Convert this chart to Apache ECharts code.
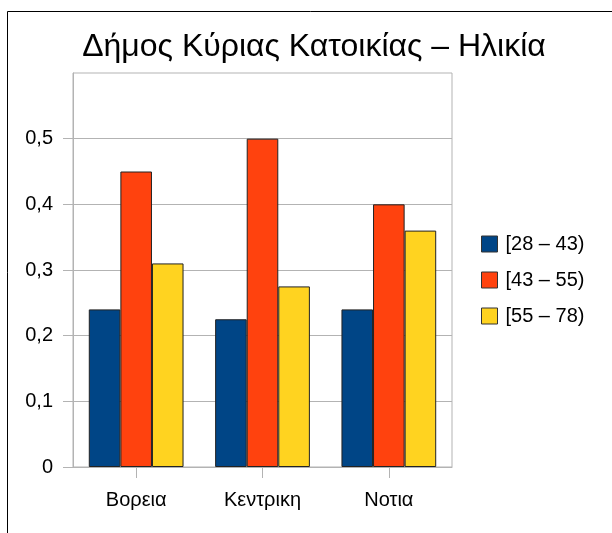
<!DOCTYPE html>
<html><head><meta charset="utf-8">
<script src="https://cdn.jsdelivr.net/npm/echarts@6/dist/echarts.min.js"></script>
<style>html,body{margin:0;padding:0;background:#fff}#c{width:612px;height:533px}</style>
</head><body><div id="c"></div>
<script>
const categories = ['Βορεια', 'Κεντρικη', 'Νοτια'];
const seriesNames = ['[28 – 43)', '[43 – 55)', '[55 – 78)'];
const age28_43 = [0.24, 0.225, 0.24];
const age43_55 = [0.45, 0.50, 0.40];
const age55_78 = [0.31, 0.275, 0.36];
const yTicks = [0, 0.1, 0.2, 0.3, 0.4, 0.5];
const colors = ['#004586', '#ff420e', '#ffd320'];
const values = [age28_43, age43_55, age55_78];

const chart = echarts.init(document.getElementById('c'), null, {renderer: 'canvas'});
const font = 'Liberation Sans';
chart.setOption({
  animation: false,
  backgroundColor: '#fff',
  textStyle: {fontFamily: font},
  title: {
    text: 'Δήμος Κύριας Κατοικίας – Ηλικία',
    left: 309, top: 26, textAlign: 'center',
    textStyle: {fontFamily: font, fontSize: 32, fontWeight: 'normal', color: '#000'}
  },
  graphic: [{
    type: 'rect', shape: {x: 7.5, y: 11.5, width: 700, height: 600},
    style: {fill: 'none', stroke: '#000', lineWidth: 1}, silent: true
  }],
  legend: {
    orient: 'vertical', left: 476, top: 229, itemWidth: 16, itemHeight: 16, itemGap: 16,
    icon: 'rect',
    textStyle: {fontFamily: font, fontSize: 20, color: '#000', lineHeight: 16, padding: [0, 0, 0, 3]},
    itemStyle: {borderColor: '#333', borderWidth: 1},
    data: seriesNames
  },
  grid: {left: 73, top: 73, width: 379, height: 394, show: true, borderColor: '#b3b3b3', borderWidth: 1, backgroundColor: 'transparent'},
  xAxis: {
    type: 'category', data: categories,
    axisLine: {lineStyle: {color: '#b3b3b3'}},
    axisTick: {show: true, alignWithLabel: true, length: 11, lineStyle: {color: '#b3b3b3'}},
    axisLabel: {fontFamily: font, fontSize: 20, color: '#000', margin: 23}
  },
  yAxis: {
    type: 'value', min: 0, max: 0.6, interval: 0.1,
    axisLine: {show: true, lineStyle: {color: '#b3b3b3'}},
    axisTick: {show: true, length: 10, customValues: yTicks, lineStyle: {color: '#b3b3b3'}},
    splitLine: {lineStyle: {color: '#b3b3b3'}},
    axisLabel: {fontFamily: font, fontSize: 20, color: '#000', margin: 20,
      formatter: v => (Math.abs(v - 0.6) < 1e-9) ? '' : String(Math.round(v * 10) / 10).replace('.', ',')}
  },
  series: seriesNames.map((n, i) => ({
    name: n, type: 'bar', data: values[i], barGap: '0%', barCategoryGap: '25%',
    itemStyle: {color: colors[i], borderColor: '#222', borderWidth: 1}
  }))
});
</script></body></html>
